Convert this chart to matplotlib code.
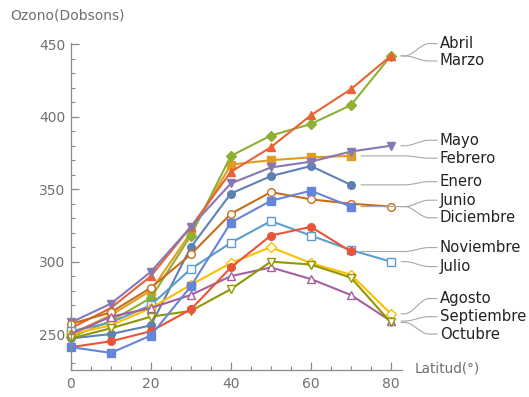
import numpy as np
import matplotlib
matplotlib.use("Agg")
import matplotlib.pyplot as plt
from matplotlib.ticker import MultipleLocator

# latitud (grados norte) y ozono medio (Dobsons) por mes
latitud = [0, 10, 20, 30, 40, 50, 60, 70, 80]

enero = [247, 250, 256, 310, 347, 359, 366, 353]
febrero = [250, 263, 280, 320, 367, 370, 372, 373]
marzo = [248, 259, 275, 318, 373, 387, 395, 408, 442]
abril = [254, 268, 290, 324, 362, 379, 401, 419, 442]
mayo = [258, 271, 293, 324, 354, 365, 369, 376, 380]
junio = [257, 265, 282, 305, 333, 348, 343, 340, 338]
julio = [252, 258, 270, 295, 313, 328, 318, 308, 300]
agosto = [250, 256, 268, 284, 299, 310, 299, 291, 264]
septiembre = [250, 262, 268, 277, 290, 296, 288, 277, 259]
octubre = [247, 254, 262, 266, 281, 300, 298, 289, 258]
noviembre = [241, 245, 252, 267, 296, 318, 324, 307]
diciembre = [241, 237, 249, 283, 327, 342, 349, 338]

meses = ["Enero", "Febrero", "Marzo", "Abril", "Mayo", "Junio", "Julio",
         "Agosto", "Septiembre", "Octubre", "Noviembre", "Diciembre"]
valores = [enero, febrero, marzo, abril, mayo, junio, julio,
           agosto, septiembre, octubre, noviembre, diciembre]

# paleta por defecto de Mathematica y sus marcadores automáticos
colores = ["#5E81B5", "#E19C24", "#8FB032", "#EB6235", "#8778B3", "#C56E1A",
           "#5D9EC7", "#FFBF00", "#A5609D", "#929600", "#E95536", "#6685D9"]
marcadores = ["o", "s", "D", "^", "v", "o", "s", "D", "^", "v", "o", "s"]
huecos = [False] * 5 + [True] * 5 + [False] * 2

# altura (en Dobsons) donde va la etiqueta de cada mes
y_etiqueta = {"Abril": 450.5, "Marzo": 438.5, "Mayo": 383.8, "Febrero": 371.4,
              "Enero": 355.2, "Junio": 342.4, "Diciembre": 330.3,
              "Noviembre": 309.7, "Julio": 296.6, "Agosto": 274.5,
              "Septiembre": 262.0, "Octubre": 250.0}

fig = plt.figure(figsize=(5.29, 3.97), dpi=100)
ax = fig.add_axes([0.134, 0.068, 0.626, 0.824])

gris = "#8a8a8a"
for mes, vals, c, m, hueco in zip(meses, valores, colores, marcadores, huecos):
    xs = latitud[:len(vals)]
    ms = 5.0 if m == "D" else 5.5
    ax.plot(xs, vals, color=c, lw=1.5, marker=m, ms=ms,
            mfc="white" if hueco else c, mec=c, mew=1.0, clip_on=False)

    # línea guía hasta la etiqueta
    x0 = xs[-1] + 2.6
    y0 = vals[-1]
    y1 = y_etiqueta[mes]
    xa = max(x0, 83.5)
    xb = 89.5
    gx = np.linspace(xa, xb, 40)
    t = (gx - xa) / (xb - xa)
    gy = y0 + (y1 - y0) * (3 * t ** 2 - 2 * t ** 3)
    gx = np.concatenate([[x0], gx, [91.5]])
    gy = np.concatenate([[y0], gy, [y1]])
    ax.plot(gx, gy, color="#a8a8a8", lw=0.8, clip_on=False)
    ax.text(92.2, y1, mes, fontsize=10.7, color="#222222",
            va="center", ha="left", clip_on=False)

ax.set_xlim(0, 82.8)
ax.set_ylim(225.2, 451)

for lado in ["top", "right"]:
    ax.spines[lado].set_visible(False)
for lado in ["left", "bottom"]:
    ax.spines[lado].set_color(gris)
    ax.spines[lado].set_linewidth(0.9)

ax.xaxis.set_major_locator(MultipleLocator(20))
ax.xaxis.set_minor_locator(MultipleLocator(5))
ax.yaxis.set_major_locator(MultipleLocator(50))
ax.yaxis.set_minor_locator(MultipleLocator(10))
ax.tick_params(which="both", direction="in", color=gris, labelcolor="#707070",
               labelsize=10)
ax.tick_params(which="major", length=5.5, width=0.9)
ax.tick_params(which="minor", length=3, width=0.8)
ax.tick_params(axis="x", pad=5)
ax.tick_params(axis="y", pad=4)

fig.text(0.019, 0.962, "Ozono(Dobsons)", fontsize=10, color="#707070",
         va="center", ha="left")
ax.text(86.0, 225.2 + 1.3, "Latitud(°)", fontsize=9.8, color="#707070",
        va="center", ha="left", clip_on=False)

fig.savefig("out.png", dpi=100)
